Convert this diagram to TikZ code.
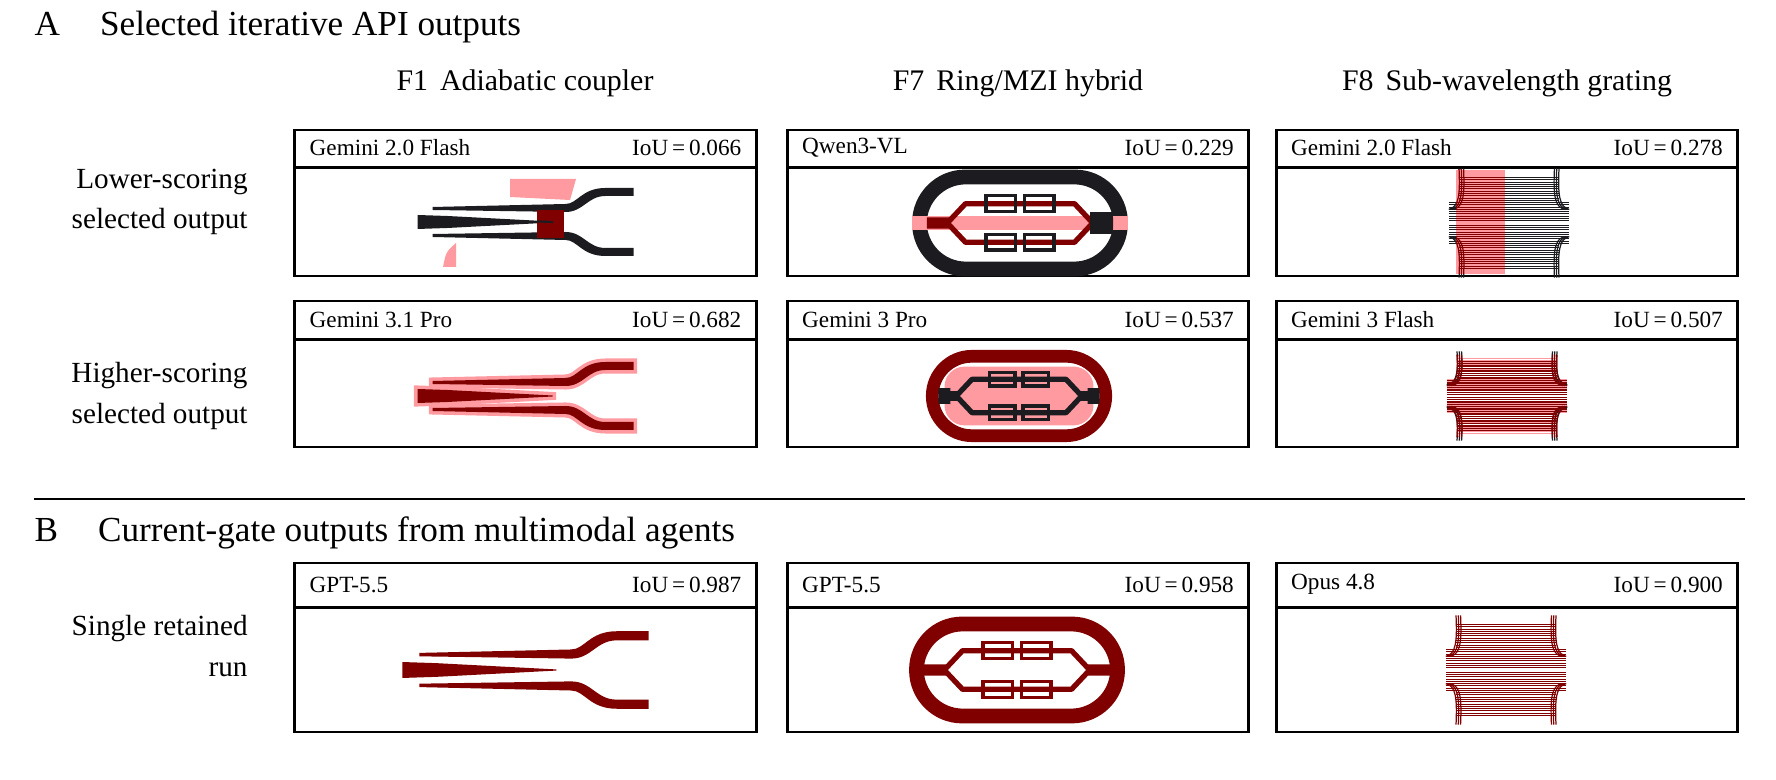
\documentclass[tikz,border=0pt]{standalone}
\usepackage{fontspec}
\setmainfont{Liberation Serif}
\usetikzlibrary{positioning}
\definecolor{devblack}{HTML}{1C1C20}
\definecolor{devred}{HTML}{800000}
\definecolor{devpink}{HTML}{FF9AA0}
\tikzset{
  box/.style={rectangle, draw, thick, minimum width=4.61cm, inner sep=0pt},
  lab/.style={inner sep=1pt, font=\fontsize{6.6}{8}\selectfont},
  side/.style={align=right, anchor=east, font=\fontsize{8.3}{11.4}\selectfont},
  head/.style={font=\fontsize{8.5}{10}\selectfont},
  title/.style={anchor=west, inner sep=0pt, font=\fontsize{10}{12}\selectfont},
}
% panel frame with model name and score
\newcommand{\panel}[6]{%
  \node[box, minimum height=#3] (#1) at #2 {};
  \draw[thick] ([yshift=-#4]#1.north west) -- ([yshift=-#4]#1.north east);
  \node[lab, anchor=west] (#1m) at ([xshift=0.12cm,yshift=-#4/2]#1.north west) {#5};
  \node[lab, anchor=east] (#1i) at ([xshift=-0.12cm,yshift=-#4/2]#1.north east) {IoU\,=\,#6};}
% devices
\newcommand{\couplershape}[1]{%
  \fill[#1] (-108,-7) -- (-78,-6) -- (27,-0.5) -- (27,0.5) -- (-78,6) -- (-108,7) -- cycle;
  \foreach \s in {1,-1}{
    \fill[#1] (-93,-12*\s) -- (40,-10*\s) .. controls (58,-10*\s) and (62,-26*\s) .. (80,-26*\s) -- (108,-26*\s)
      -- (108,-34*\s) -- (80,-34*\s) .. controls (56,-34*\s) and (52,-18*\s) .. (40,-18*\s) -- (-93,-15*\s) -- cycle;}}
\newcommand{\ringshape}[3]{%
  \fill[#1, even odd rule] [rounded corners=#2] (-95,-47) rectangle (95,47)
    [rounded corners=#3] (-82,-34) rectangle (82,34);}
\newcommand{\mzishape}[2]{%
  \fill[#1] (-82,-5) rectangle (-62,5) (62,-5) rectangle (82,5);
  \foreach \s in {1,-1}{
    \draw[#1, line width=1.5pt, line join=round] (-64,0) -- (-48,-17*\s) -- (48,-17*\s) -- (64,0);
    \draw[#2, line width=1pt] (-30,-24*\s) rectangle (-4,-10*\s) (4,-24*\s) rectangle (30,-10*\s);}}
\newcommand{\gratingshape}[2]{%
  \foreach \s in {1,-1}{
    \foreach \y in {20,22,...,40} \draw[#1, line width=0.28pt] (-44,-\y*\s) -- (44,-\y*\s);
    \foreach \y in {2,4,...,18} \draw[#1, line width=0.28pt] (-53,-\y*\s) -- (53,-\y*\s);
    \foreach \d in {0,2,4} {
      \draw[#2, line width=0.35pt] (-44+\d,-48*\s) .. controls (-43+\d,-25*\s) and (-44+\d,-14*\s) .. (-53+\d,-12*\s);
      \draw[#2, line width=0.35pt] (44-\d,-48*\s) .. controls (43-\d,-25*\s) and (44-\d,-14*\s) .. (53-\d,-12*\s);}}}

\begin{document}
\begin{tikzpicture}[x=0.01cm, y=-0.01cm]

  % Titles
  \node[title] (tA) at (34,27) {A\hspace{0.4cm}Selected iterative API outputs};
  \node[title] (tB) at (34,533) {B\hspace{0.4cm}Current-gate outputs from multimodal agents};
  \node[head] (h1) at (525,83) {F1\hspace{0.12cm}Adiabatic coupler};
  \node[head] (h7) at (1018,83) {F7\hspace{0.12cm}Ring/MZI hybrid};
  \node[head] (h8) at (1507,83) {F8\hspace{0.12cm}Sub-wavelength grating};
  \node[side] (s1) at (260,202) {Lower-scoring\\selected output};
  \node[side] (s2) at (260,396) {Higher-scoring\\selected output};
  \node[side] (s3) at (260,646) {Single retained\\run};
  \coordinate (sepL) at (34,499);
  \coordinate (sepR) at (1745,499);
  \draw[thin] (sepL) -- (sepR);

  % Panels
  \panel{p11}{(525.5,203)}{1.46cm}{0.39cm}{Gemini 2.0 Flash}{0.066}
  \panel{p12}{(1018,203)}{1.46cm}{0.39cm}{Qwen3-VL}{0.229}
  \panel{p13}{(1507,203)}{1.46cm}{0.39cm}{Gemini 2.0 Flash}{0.278}
  \panel{p21}{(525.5,374)}{1.46cm}{0.40cm}{Gemini 3.1 Pro}{0.682}
  \panel{p22}{(1018,374)}{1.46cm}{0.40cm}{Gemini 3 Pro}{0.537}
  \panel{p23}{(1507,374)}{1.46cm}{0.40cm}{Gemini 3 Flash}{0.507}
  \panel{p31}{(525.5,647.5)}{1.69cm}{0.46cm}{GPT-5.5}{0.987}
  \panel{p32}{(1018,647.5)}{1.69cm}{0.46cm}{GPT-5.5}{0.958}
  \panel{p33}{(1507,647.5)}{1.69cm}{0.46cm}{Opus 4.8}{0.900}

  % Couplers
  \fill[devpink] (510,179) -- (576,179) -- (570,200) -- (510,197) -- cycle;
  \fill[devpink] (443,267) .. controls (446,252) .. (456,243) -- (456,267) -- cycle;
  \begin{scope}[shift={(525.5,222)}]
    \couplershape{devblack}
  \end{scope}
  \fill[devred] (537,210) rectangle (564,238);
  \draw[devblack, line width=0.6pt] (537,221.5) -- (553,222);
  \begin{scope}[shift={(525.5,396)}]
    \couplershape{devpink, draw=devpink, line width=2pt}
    \couplershape{devred}
  \end{scope}
  \begin{scope}[shift={(525.5,670)}, scale=1.14]
    \couplershape{devred}
  \end{scope}

  % Rings
  \begin{scope}[shift={(1020,223)}, scale=1.136]
    \ringshape{devblack}{0.53cm}{0.39cm}
    \fill[devpink] (-95,-6) rectangle (95,6);
    \mzishape{devred}{devblack}
    \fill[devblack] (62,-10) rectangle (82,10);
  \end{scope}
  \begin{scope}[shift={(1019,396)}, scale=0.98]
    \ringshape{devred}{0.46cm}{0.33cm}
    \fill[devpink, rounded corners=0.2cm] (-76,-30) rectangle (76,30);
    \mzishape{devblack}{devblack}
    \fill[devblack] (-82,-8) rectangle (-70,8) (70,-8) rectangle (82,8);
  \end{scope}
  \begin{scope}[shift={(1017,670)}, scale=1.136]
    \ringshape{devred}{0.53cm}{0.39cm}
    \mzishape{devred}{devred}
  \end{scope}

  % Gratings
  \begin{scope}[shift={(1509,223)}, scale=1.136]
    \gratingshape{devblack}{devblack}
  \end{scope}
  \fill[devpink] (1456,170) rectangle (1505,274);
  \begin{scope}
    \clip (1456,170) rectangle (1505,274);
    \begin{scope}[shift={(1509,223)}, scale=1.136]
      \gratingshape{devred}{devred}
    \end{scope}
  \end{scope}
  \begin{scope}[shift={(1507,396)}, xscale=1.136, yscale=0.93]
    \gratingshape{devpink}{devblack}
  \end{scope}
  \begin{scope}[shift={(1507,396)}, xscale=1.136, yscale=0.86]
    \gratingshape{devred}{devred}
  \end{scope}
  \begin{scope}[shift={(1506,670)}, scale=1.136]
    \gratingshape{devred}{devred}
  \end{scope}

  \pgfresetboundingbox
  \useasboundingbox (0,0) rectangle (1776,780);
\end{tikzpicture}
\end{document}
